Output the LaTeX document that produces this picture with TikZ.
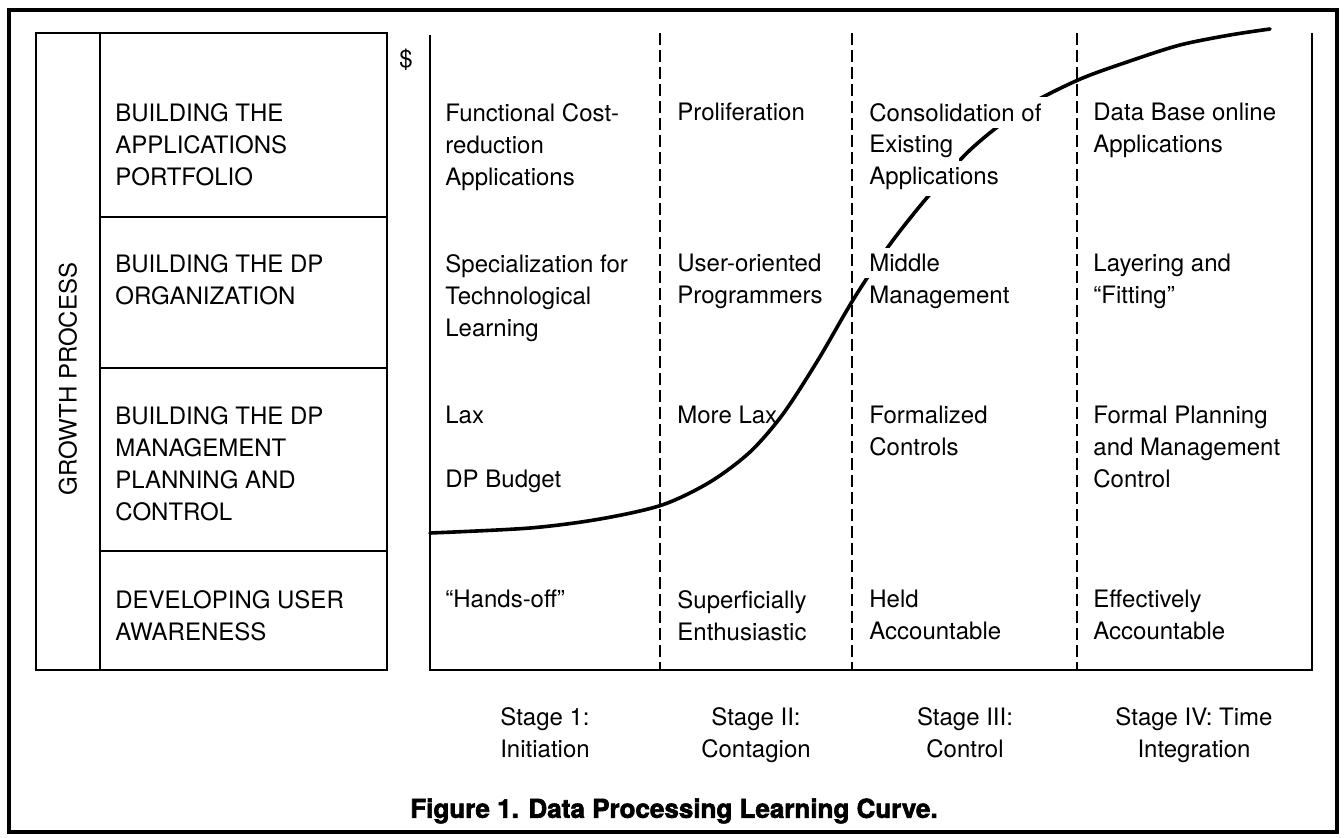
\documentclass[tikz,border=0pt]{standalone}
\usepackage{fontspec}
\setmainfont{TeX Gyre Heros}
\newfontfamily\capfont{TeX Gyre Heros}[BoldFeatures={FakeBold=2.4}]
\usetikzlibrary{positioning}

\tikzset{
  frame/.style={line width=1.3pt},
  stagediv/.style={line width=1.3pt, dash pattern=on 6pt off 2.5pt},
  cell/.style={anchor=north west, align=left, inner sep=0pt,
               font=\fontsize{12}{16}\selectfont},
  knock/.style={cell, fill=white, inner sep=3pt, xshift=-3pt, yshift=3pt},
  stagelbl/.style={anchor=north, align=center, inner sep=0pt,
               font=\fontsize{12}{16}\selectfont},
  curve/.style={line width=1.8pt, line cap=round}
}

\begin{document}
\begin{tikzpicture}[x=0.5pt, y=-0.5pt]
        \useasboundingbox (0,0) rectangle (1344,837);
        % outer frame
        \draw[line width=2pt] (9,10) rectangle (1337,832);
        % growth process table
        \draw[frame] (36,33) rectangle (387,670);
        \draw[frame] (100,33) -- (100,670);
        \foreach \y in {217,368,551}
          \draw[frame] (100,\y) -- (387,\y);
        \node[cell, anchor=center, rotate=90] (growth) at (68,379) {GROWTH PROCESS};
        \node[cell] (portfolio) at (115,103) {BUILDING THE\\APPLICATIONS\\PORTFOLIO};
        \node[cell] (organization) at (115,254) {BUILDING THE DP\\ORGANIZATION};
        \node[cell] (planning) at (115,406) {BUILDING THE DP\\MANAGEMENT\\PLANNING AND\\CONTROL};
        \node[cell] (awareness) at (115,590) {DEVELOPING USER\\AWARENESS};
        % stage panel
        \node[cell] (dollar) at (399,49) {\$};
        \draw[frame] (430,35) -- (430,670) -- (1312,670) -- (1312,33);
        \foreach \x in {660,852,1077}
          \draw[stagediv] (\x,33) -- (\x,670);
        % learning curve
        \draw[curve] plot[smooth, tension=0.5] coordinates {
          (430,533) (530,528) (600,519) (662,505) (710,482) (750,452)
          (783,414) (818,360) (853,300) (888,247) (925,200) (970,150)
          (1022,109) (1078,80) (1130,61) (1180,45) (1230,35) (1270,29)};
        % stage 1
        \node[cell] (apps-i) at (445,103) {Functional Cost-\\reduction\\Applications};
        \node[cell] (org-i) at (445,254) {Specialization for\\Technological\\Learning};
        \node[cell] (ctrl-i) at (445,406) {Lax\\[16pt]DP Budget};
        \node[cell] (user-i) at (445,590) {“Hands-off”};
        % stage 2
        \node[cell] (apps-ii) at (677,103) {Proliferation};
        \node[cell] (org-ii) at (677,254) {User-oriented\\Programmers};
        \node[cell] (ctrl-ii) at (677,406) {More Lax};
        \node[cell] (user-ii) at (677,590) {Superficially\\Enthusiastic};
        % stage 3 (lines the curve runs through are cut out of it)
        \node[knock] (apps-iii) at (869,103) {Consolidation of};
        \node[knock] (apps-iii-2) at (869,135) {Existing};
        \node[knock] (apps-iii-3) at (869,167) {Applications};
        \node[knock] (org-iii) at (869,254) {Middle};
        \node[cell] (org-iii-2) at (869,286) {Management};
        \node[cell] (ctrl-iii) at (869,406) {Formalized\\Controls};
        \node[cell] (user-iii) at (869,590) {Held\\Accountable};
        % stage 4
        \node[cell] (apps-iv) at (1093,103) {Data Base online\\Applications};
        \node[cell] (org-iv) at (1093,254) {Layering and\\“Fitting”};
        \node[cell] (ctrl-iv) at (1093,406) {Formal Planning\\and Management\\Control};
        \node[cell] (user-iv) at (1093,590) {Effectively\\Accountable};
        % stage names
        \node[stagelbl] (stage-i) at (545,707) {Stage 1:\\Initiation};
        \node[stagelbl] (stage-ii) at (756,707) {Stage II:\\Contagion};
        \node[stagelbl] (stage-iii) at (965,707) {Stage III:\\Control};
        \node[stagelbl] (stage-iv) at (1194,707) {Stage IV: Time\\Integration};
        \node[stagelbl, font=\fontsize{13}{16}\capfont\bfseries] (caption) at (674,798)
          {Figure 1. Data Processing Learning Curve.};
      \end{tikzpicture}
\end{document}
